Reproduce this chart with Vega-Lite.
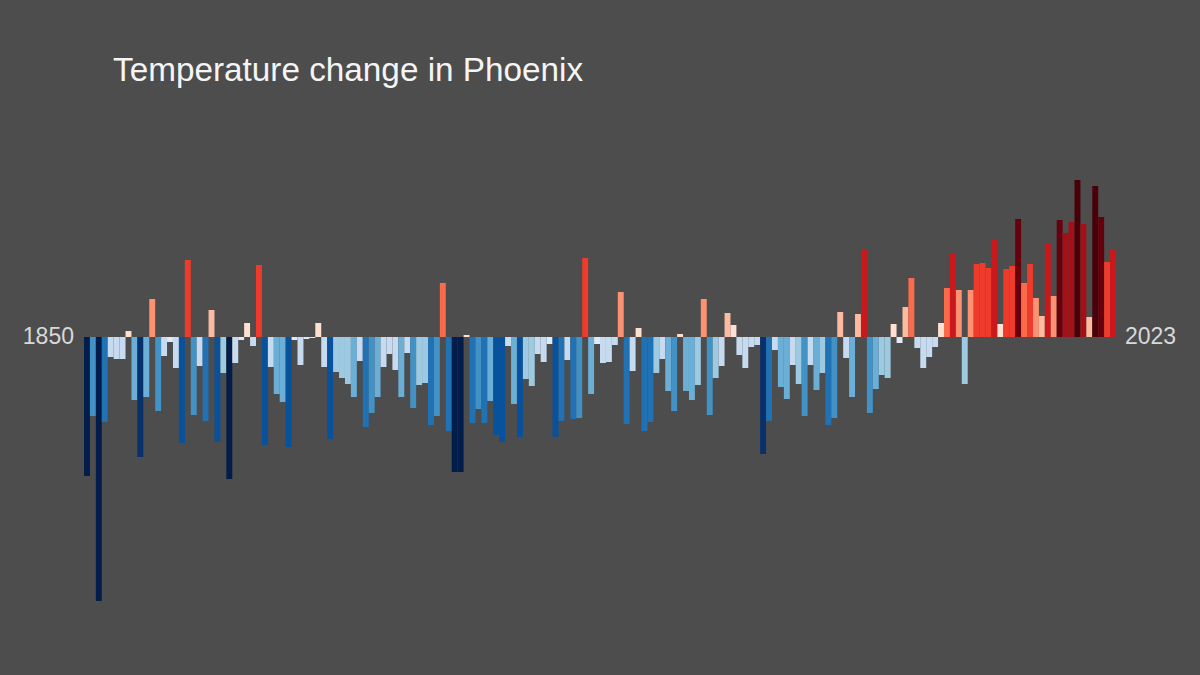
{
  "$schema": "https://vega.github.io/schema/vega-lite/v6.json",
  "width": 1032,
  "height": 520,
  "autosize": "none",
  "padding": {"left": 84, "top": 97, "right": 84, "bottom": 58},
  "background": "#4d4d4d",
  "config": {"view": {"stroke": null}},
  "title": {
    "text": "Temperature change in Phoenix",
    "anchor": "start",
    "frame": "group",
    "dx": 29,
    "dy": 33,
    "offset": 16,
    "baseline": "alphabetic",
    "font": "Liberation Sans",
    "fontSize": 33.3,
    "fontWeight": "normal",
    "color": "#f5f5f5"
  },
  "data": {"values": [
    {"year":1850,"t":-1.39},{"year":1851,"t":-0.79},{"year":1852,"t":-2.64},{"year":1853,"t":-0.85},{"year":1854,"t":-0.20},{"year":1855,"t":-0.22},{"year":1856,"t":-0.22},{"year":1857,"t":0.06},{"year":1858,"t":-0.63},{"year":1859,"t":-1.20},
    {"year":1860,"t":-0.60},{"year":1861,"t":0.38},{"year":1862,"t":-0.74},{"year":1863,"t":-0.19},{"year":1864,"t":-0.05},{"year":1865,"t":-0.31},{"year":1866,"t":-1.06},{"year":1867,"t":0.77},{"year":1868,"t":-0.78},{"year":1869,"t":-0.29},
    {"year":1870,"t":-0.84},{"year":1871,"t":0.27},{"year":1872,"t":-1.05},{"year":1873,"t":-0.36},{"year":1874,"t":-1.42},{"year":1875,"t":-0.26},{"year":1876,"t":-0.03},{"year":1877,"t":0.14},{"year":1878,"t":-0.09},{"year":1879,"t":0.72},
    {"year":1880,"t":-1.08},{"year":1881,"t":-0.30},{"year":1882,"t":-0.57},{"year":1883,"t":-0.65},{"year":1884,"t":-1.10},{"year":1885,"t":-0.03},{"year":1886,"t":-0.28},{"year":1887,"t":-0.02},{"year":1888,"t":-0.01},{"year":1889,"t":0.14},
    {"year":1890,"t":-0.30},{"year":1891,"t":-1.02},{"year":1892,"t":-0.35},{"year":1893,"t":-0.41},{"year":1894,"t":-0.47},{"year":1895,"t":-0.60},{"year":1896,"t":-0.24},{"year":1897,"t":-0.90},{"year":1898,"t":-0.76},{"year":1899,"t":-0.60},
    {"year":1900,"t":-0.30},{"year":1901,"t":-0.17},{"year":1902,"t":-0.33},{"year":1903,"t":-0.60},{"year":1904,"t":-0.16},{"year":1905,"t":-0.71},{"year":1906,"t":-0.48},{"year":1907,"t":-0.46},{"year":1908,"t":-0.88},{"year":1909,"t":-0.79},
    {"year":1910,"t":0.54},{"year":1911,"t":-0.94},{"year":1912,"t":-1.35},{"year":1913,"t":-1.35},{"year":1914,"t":0.02},{"year":1915,"t":-0.86},{"year":1916,"t":-0.72},{"year":1917,"t":-0.86},{"year":1918,"t":-0.64},{"year":1919,"t":-0.98},
    {"year":1920,"t":-1.05},{"year":1921,"t":-0.09},{"year":1922,"t":-0.67},{"year":1923,"t":-1.00},{"year":1924,"t":-0.42},{"year":1925,"t":-0.49},{"year":1926,"t":-0.17},{"year":1927,"t":-0.25},{"year":1928,"t":-0.07},{"year":1929,"t":-1.00},
    {"year":1930,"t":-0.84},{"year":1931,"t":-0.23},{"year":1932,"t":-0.82},{"year":1933,"t":-0.81},{"year":1934,"t":0.79},{"year":1935,"t":-0.57},{"year":1936,"t":-0.07},{"year":1937,"t":-0.26},{"year":1938,"t":-0.25},{"year":1939,"t":-0.08},
    {"year":1940,"t":0.45},{"year":1941,"t":-0.87},{"year":1942,"t":-0.34},{"year":1943,"t":0.09},{"year":1944,"t":-0.94},{"year":1945,"t":-0.85},{"year":1946,"t":-0.36},{"year":1947,"t":-0.22},{"year":1948,"t":-0.54},{"year":1949,"t":-0.74},
    {"year":1950,"t":0.03},{"year":1951,"t":-0.54},{"year":1952,"t":-0.63},{"year":1953,"t":-0.48},{"year":1954,"t":0.38},{"year":1955,"t":-0.78},{"year":1956,"t":-0.41},{"year":1957,"t":-0.29},{"year":1958,"t":0.24},{"year":1959,"t":0.12},
    {"year":1960,"t":-0.18},{"year":1961,"t":-0.31},{"year":1962,"t":-0.10},{"year":1963,"t":-0.08},{"year":1964,"t":-1.17},{"year":1965,"t":-0.84},{"year":1966,"t":-0.13},{"year":1967,"t":-0.50},{"year":1968,"t":-0.62},{"year":1969,"t":-0.28},
    {"year":1970,"t":-0.47},{"year":1971,"t":-0.79},{"year":1972,"t":-0.28},{"year":1973,"t":-0.53},{"year":1974,"t":-0.36},{"year":1975,"t":-0.88},{"year":1976,"t":-0.81},{"year":1977,"t":0.25},{"year":1978,"t":-0.21},{"year":1979,"t":-0.60},
    {"year":1980,"t":0.23},{"year":1981,"t":0.88},{"year":1982,"t":-0.76},{"year":1983,"t":-0.52},{"year":1984,"t":-0.38},{"year":1985,"t":-0.41},{"year":1986,"t":0.13},{"year":1987,"t":-0.06},{"year":1988,"t":0.30},{"year":1989,"t":0.59},
    {"year":1990,"t":-0.11},{"year":1991,"t":-0.31},{"year":1992,"t":-0.20},{"year":1993,"t":-0.10},{"year":1994,"t":0.14},{"year":1995,"t":0.49},{"year":1996,"t":0.84},{"year":1997,"t":0.47},{"year":1998,"t":-0.47},{"year":1999,"t":0.47},
    {"year":2000,"t":0.73},{"year":2001,"t":0.74},{"year":2002,"t":0.69},{"year":2003,"t":0.97},{"year":2004,"t":0.13},{"year":2005,"t":0.68},{"year":2006,"t":0.71},{"year":2007,"t":1.18},{"year":2008,"t":0.54},{"year":2009,"t":0.73},
    {"year":2010,"t":0.39},{"year":2011,"t":0.21},{"year":2012,"t":0.93},{"year":2013,"t":0.41},{"year":2014,"t":1.17},{"year":2015,"t":1.04},{"year":2016,"t":1.15},{"year":2017,"t":1.57},{"year":2018,"t":1.13},{"year":2019,"t":0.20},
    {"year":2020,"t":1.51},{"year":2021,"t":1.20},{"year":2022,"t":0.75},{"year":2023,"t":0.87}
  ]},
  "encoding": {
    "x": {"field": "year", "type": "ordinal", "axis": null, "scale": {"paddingInner": 0, "paddingOuter": 0}}
  },
  "layer": [
    {
      "mark": {"type": "bar", "strokeWidth": 0},
      "encoding": {
        "y": {"field": "t", "type": "quantitative", "axis": null, "scale": {"domain": [-2.8, 2.4], "nice": false, "zero": true}},
        "color": {
          "field": "t", "type": "quantitative", "legend": null,
          "scale": {
            "type": "threshold",
            "domain": [-1.3, -1.13, -0.96, -0.815, -0.68, -0.495, -0.345, -0.075, 0, 0.17, 0.34, 0.48, 0.63, 0.82, 1.0, 1.16, 1.4],
            "range": ["#031d4a", "#08306b", "#08519c", "#2171b5", "#4292c6", "#6baed6", "#9ecae1", "#c6dbef", "#deebf7", "#fee0d2", "#fcbba1", "#fc9272", "#fb6a4a", "#ef3b2c", "#cb181d", "#a50f15", "#67000d", "#4a0009"]
          }
        }
      }
    },
    {
      "transform": [{"filter": "datum.year == 1850"}],
      "mark": {"type": "text", "align": "right", "baseline": "middle", "dx": -10, "font": "Liberation Sans", "fontSize": 23, "color": "#d9d9d9"},
      "encoding": {
        "x": {"field": "year", "type": "ordinal", "bandPosition": 0},
        "y": {"datum": 0, "type": "quantitative"},
        "text": {"field": "year", "type": "nominal"}
      }
    },
    {
      "transform": [{"filter": "datum.year == 2023"}],
      "mark": {"type": "text", "align": "left", "baseline": "middle", "dx": 9, "font": "Liberation Sans", "fontSize": 23, "color": "#d9d9d9"},
      "encoding": {
        "x": {"field": "year", "type": "ordinal", "bandPosition": 1},
        "y": {"datum": 0, "type": "quantitative"},
        "text": {"field": "year", "type": "nominal"}
      }
    }
  ]
}
